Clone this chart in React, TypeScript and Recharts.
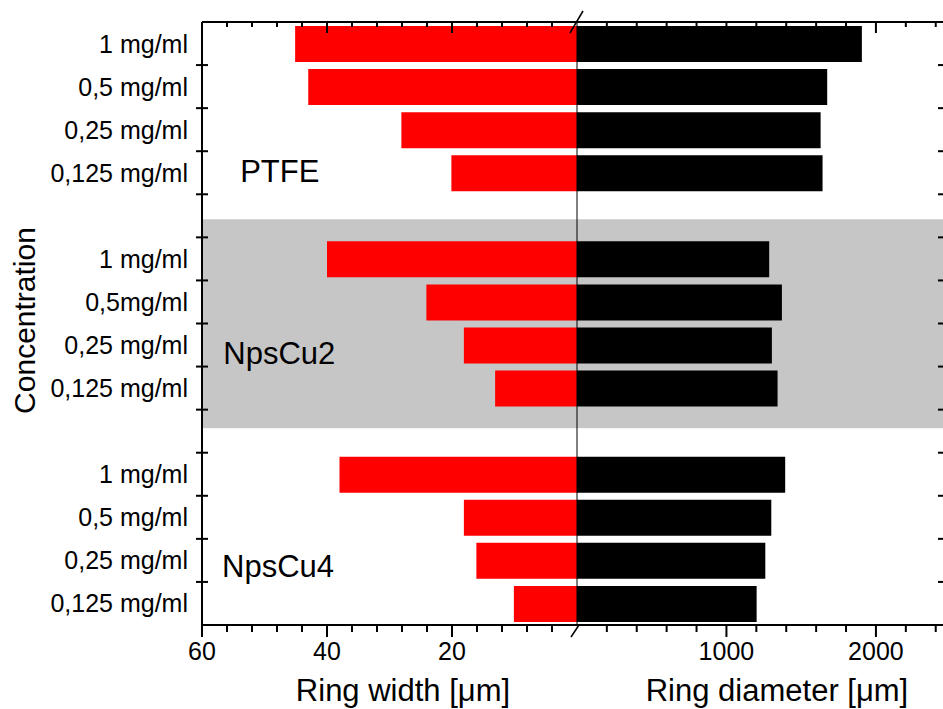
import { Bar, BarChart, Label, ReferenceArea, ReferenceDot, ReferenceLine, XAxis, YAxis } from "recharts";

const FONT = '"Liberation Sans", Arial, Helvetica, sans-serif';

// concentrations per group (as printed on the axis)
const ptfeLabels = ["1 mg/ml", "0,5 mg/ml", "0,25 mg/ml", "0,125 mg/ml"];
const npsCu2Labels = ["1 mg/ml", "0,5mg/ml", "0,25 mg/ml", "0,125 mg/ml"];
const npsCu4Labels = ["1 mg/ml", "0,5 mg/ml", "0,25 mg/ml", "0,125 mg/ml"];

// ring width [µm] (left, red)
const ptfeWidth = [45.1, 43.0, 28.1, 20.1];
const npsCu2Width = [40.0, 24.1, 18.1, 13.1];
const npsCu4Width = [38.0, 18.1, 16.1, 10.1];

// ring diameter [µm] (right, black)
const ptfeDiameter = [1906, 1674, 1630, 1643];
const npsCu2Diameter = [1286, 1371, 1304, 1342];
const npsCu4Diameter = [1393, 1300, 1260, 1202];

const groupNames = ["PTFE", "NpsCu2", "NpsCu4"];
// group name placement: row it sits on, nudge in rows, left edge in ring-width units
const groupLabelRow = ["PTFE-3", "NpsCu2-2", "NpsCu4-2"];
const groupLabelNudge = [-0.04, 0.19, 0.13];
const groupLabelX = [-53.9, -56.6, -56.8];

const widthTicks = [-60, -56, -52, -48, -44, -40, -36, -32, -28, -24, -20, -16, -12, -8, -4, 0];
const widthMajor = [-60, -40, -20];
const diameterTicks = [200, 400, 600, 800, 1000, 1200, 1400, 1600, 1800, 2000, 2200, 2400];
const diameterMajor = [1000, 2000];

type Row = { id: string; label: string; width: number | null; diameter: number | null };

const groupsData = [
  { name: "PTFE", labels: ptfeLabels, width: ptfeWidth, diameter: ptfeDiameter },
  { name: "NpsCu2", labels: npsCu2Labels, width: npsCu2Width, diameter: npsCu2Diameter },
  { name: "NpsCu4", labels: npsCu4Labels, width: npsCu4Width, diameter: npsCu4Diameter },
];

const rows: Row[] = [];
groupsData.forEach((g, gi) => {
  if (gi > 0) rows.push({ id: `gap${gi}`, label: "", width: null, diameter: null });
  g.labels.forEach((l, i) => rows.push({ id: `${g.name}-${i}`, label: l, width: g.width[i], diameter: g.diameter[i] }));
});

const W = 1000;
const H = 709;
const TOP = 22;
const BOTTOM = 625;
const ROW = (BOTTOM - TOP) / rows.length;

function makeXTick(side: "top" | "bottom", majors: number[], labels: boolean) {
  return (props: any) => {
    const { x, y, payload } = props;
    const v = payload.value;
    if (v === 0) {
      // axis break mark
      return side === "bottom" ? (
        <line x1={x - 6} y1={y + 12} x2={x + 2} y2={y} stroke="#000" strokeWidth={1.5} />
      ) : (
        <line x1={x - 7} y1={y + 11} x2={x + 6} y2={y - 11} stroke="#000" strokeWidth={1.5} />
      );
    }
    const major = majors.includes(v);
    const len = side === "bottom" ? (major ? 12 : 7) : major ? 11 : 5;
    return (
      <g>
        <line x1={x} x2={x} y1={y} y2={y + len} stroke="#000" strokeWidth={2} />
        {labels && major && (
          <text x={x} y={y + 35} textAnchor="middle" fontSize={25} fontFamily={FONT} fill="#000">
            {Math.abs(v)}
          </text>
        )}
      </g>
    );
  };
}

function LeftTick(props: any) {
  const { x, y, payload, index } = props;
  const row = rows.find((r) => r.id === payload.value);
  const last = index === rows.length - 1;
  return (
    <g>
      {!last && <line x1={x - 6} x2={x + 6} y1={y + ROW / 2} y2={y + ROW / 2} stroke="#000" strokeWidth={2} />}
      <text x={x - 14} y={y} dy="0.36em" textAnchor="end" fontSize={25} fontFamily={FONT} fill="#000">
        {row ? row.label : ""}
      </text>
    </g>
  );
}

function RightTick(props: any) {
  const { x, y, index } = props;
  if (index === rows.length - 1) return <g />;
  return <line x1={x - 7} x2={x} y1={y + ROW / 2} y2={y + ROW / 2} stroke="#000" strokeWidth={2} />;
}

// grey band starts part-way into the first gap row and ends part-way into the second
function ShadeShape(p: any) {
  const y = p.y + ROW * 0.58;
  const h = p.height - ROW * 0.58 - ROW * 0.57;
  return <rect x={p.x} y={y} width={p.width} height={h} fill="#c6c6c6" />;
}

export default function App() {
  return (
    <div style={{ position: "absolute", left: 0, top: 0, width: 943, height: 709, overflow: "hidden", background: "#fff" }}>
      <BarChart width={W} height={H} data={rows} layout="vertical" margin={{ top: TOP - 1, right: 0, bottom: 0, left: 0 }}>
        <XAxis
          xAxisId={0}
          type="number"
          orientation="bottom"
          domain={[-60, 58.88]}
          allowDataOverflow
          ticks={widthTicks}
          interval={0}
          tickSize={0}
          tickMargin={0}
          tickLine={false}
          height={84}
          axisLine={{ stroke: "#000", strokeWidth: 2 }}
          tick={makeXTick("bottom", widthMajor, true)}
        >
          <Label
            content={(p: any) => (
              <g>
                <text x={p.viewBox.x + 201} y={p.viewBox.y + 76} textAnchor="middle" fontSize={31} fontFamily={FONT} fill="#000">
                  Ring width [μm]
                </text>
                <text x={p.viewBox.x + 575} y={p.viewBox.y + 76} textAnchor="middle" fontSize={31} fontFamily={FONT} fill="#000">
                  Ring diameter [μm]
                </text>
              </g>
            )}
          />
        </XAxis>
        <XAxis
          xAxisId="d"
          type="number"
          orientation="bottom"
          mirror
          domain={[-2508, 2462]}
          allowDataOverflow
          ticks={diameterTicks}
          interval={0}
          tickSize={0}
          tickMargin={0}
          tickLine={false}
          height={1}
          axisLine={false}
          tick={makeXTick("bottom", diameterMajor, true)}
        />
        <XAxis
          xAxisId="wt"
          type="number"
          orientation="top"
          domain={[-60, 58.88]}
          allowDataOverflow
          ticks={widthTicks}
          interval={0}
          tickSize={0}
          tickMargin={0}
          tickLine={false}
          height={1}
          axisLine={{ stroke: "#000", strokeWidth: 2 }}
          tick={makeXTick("top", widthMajor, false)}
        />
        <XAxis
          xAxisId="dt"
          type="number"
          orientation="top"
          mirror
          domain={[-2508, 2462]}
          allowDataOverflow
          ticks={diameterTicks}
          interval={0}
          tickSize={0}
          tickMargin={0}
          tickLine={false}
          height={1}
          axisLine={false}
          tick={makeXTick("top", diameterMajor, false)}
        />
        <YAxis
          yAxisId={0}
          type="category"
          dataKey="id"
          width={202}
          interval={0}
          tickSize={0}
          tickMargin={0}
          tickLine={false}
          axisLine={{ stroke: "#000", strokeWidth: 2 }}
          tick={LeftTick}
        >
          <Label
            content={(p: any) => {
              const cx = p.viewBox.x + 35;
              const cy = p.viewBox.y + p.viewBox.height / 2 - 3;
              return (
                <text x={cx} y={cy} transform={`rotate(-90 ${cx} ${cy})`} textAnchor="middle" fontSize={30} fontFamily={FONT} fill="#000">
                  Concentration
                </text>
              );
            }}
          />
        </YAxis>
        <YAxis
          yAxisId="r"
          type="category"
          dataKey="id"
          orientation="right"
          width={55}
          interval={0}
          tickSize={0}
          tickMargin={0}
          tickLine={false}
          axisLine={{ stroke: "#000", strokeWidth: 2 }}
          tick={RightTick}
        />

        <ReferenceArea xAxisId={0} yAxisId={0} y1="gap1" y2="gap2" shape={ShadeShape} />

        <Bar
          xAxisId={0}
          yAxisId={0}
          dataKey={(d: Row) => (d.width == null ? null : -d.width)}
          fill="#ff0000"
          barSize={36}
          isAnimationActive={false}
        />
        <Bar xAxisId="d" yAxisId="r" dataKey="diameter" fill="#000000" barSize={36} isAnimationActive={false} />

        <ReferenceLine xAxisId={0} yAxisId={0} x={0} stroke="#000" strokeWidth={1} />

        {groupNames.map((name, i) => (
          <ReferenceDot
            key={name}
            xAxisId={0}
            yAxisId={0}
            x={groupLabelX[i]}
            y={groupLabelRow[i]}
            r={0}
            fill="none"
            stroke="none"
            label={{
              content: (p: any) => (
                <text
                  x={p.viewBox.x}
                  y={p.viewBox.y + groupLabelNudge[i] * ROW}
                  dy="0.36em"
                  fontSize={31}
                  fontFamily={FONT}
                  fill="#000"
                >
                  {name}
                </text>
              ),
            }}
          />
        ))}
      </BarChart>
    </div>
  );
}
